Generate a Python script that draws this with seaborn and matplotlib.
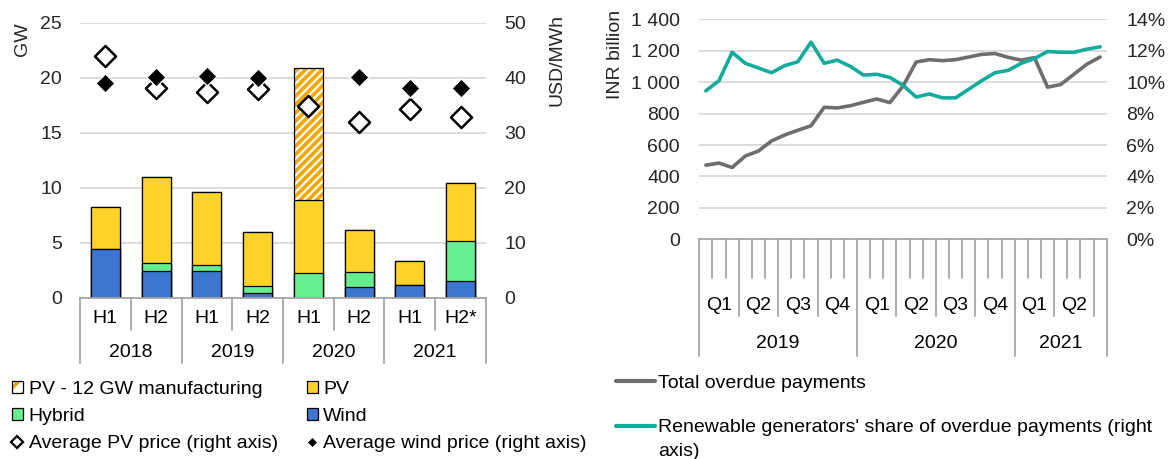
import numpy as np
import matplotlib
matplotlib.use("Agg")
import matplotlib.pyplot as plt
from matplotlib.patches import Patch
from matplotlib.lines import Line2D
from matplotlib.legend_handler import HandlerTuple
import seaborn as sns

# left panel: auctioned capacity (GW) by half-year, prices on right axis (USD/MWh)
HALVES = ["H1", "H2", "H1", "H2", "H1", "H2", "H1", "H2*"]
AUCTION_YEARS = ["2018", "2019", "2020", "2021"]
wind_gw = [4.45, 2.4, 2.4, 0.4, 0.0, 0.95, 1.15, 1.5]
hybrid_gw = [0.0, 0.8, 0.6, 0.7, 2.25, 1.4, 0.0, 3.65]
pv_gw = [3.8, 7.8, 6.65, 4.85, 6.6, 3.8, 2.15, 5.25]
pv_mfg_gw = [0.0, 0.0, 0.0, 0.0, 12.0, 0.0, 0.0, 0.0]
pv_price = [44.0, 38.1, 37.4, 38.0, 34.8, 32.0, 34.3, 32.9]
wind_price = [39.0, 40.2, 40.3, 39.9, np.nan, 40.2, 38.2, 38.2]

# right panel: monthly overdue payments, Jan 2019 - Jul 2021
QUARTERS = ["Q1", "Q2", "Q3", "Q4", "Q1", "Q2", "Q3", "Q4", "Q1", "Q2"]
PAYMENT_YEARS = ["2019", "2020", "2021"]
MONTHS_PER_YEAR = [12, 12, 7]
total_overdue = [472, 485, 457, 530, 562, 626, 664, 694, 722, 840, 836, 850, 872, 893, 870, 975,
                 1128, 1143, 1137, 1143, 1160, 1177, 1182, 1158, 1140, 1156, 968, 985, 1050, 1115, 1160]
re_share = [9.45, 10.1, 11.9, 11.2, 10.9, 10.6, 11.05, 11.3, 12.55, 11.2, 11.4, 11.0, 10.45, 10.5, 10.3, 9.8,
            9.05, 9.25, 9.0, 9.0, 9.55, 10.1, 10.6, 10.75, 11.2, 11.5, 11.95, 11.9, 11.9, 12.1, 12.25]

WIND_C = "#3B76D0"
HYBRID_C = "#66EE8F"
PV_C = "#FDD22A"
MFG_C = "#F3A800"
GREY_LINE = "#6E6E6E"
TEAL = "#13AC9C"
AXIS_GREY = "#A6A6A6"
GRID_C = "#D9D9D9"
FS = 14

sns.set_theme(style="white")
plt.rcParams["font.family"] = ["Liberation Sans", "DejaVu Sans"]
plt.rcParams["hatch.linewidth"] = 2.6
plt.rcParams["text.color"] = "black"

fig = plt.figure(figsize=(11.73, 4.59), dpi=100)
W, H = 1173, 459


def px_axes(x0, x1, y_top, y_bot):
    return fig.add_axes([x0 / W, 1 - y_bot / H, (x1 - x0) / W, (y_bot - y_top) / H])


def style_axes(ax):
    for s in ["top", "left", "right"]:
        ax.spines[s].set_visible(False)
    ax.spines["bottom"].set_color(AXIS_GREY)
    ax.spines["bottom"].set_linewidth(1.3)
    ax.yaxis.grid(True, color=GRID_C, linewidth=1.3)
    ax.xaxis.grid(False)
    ax.set_axisbelow(True)
    ax.set_xticks([])
    ax.set_xlabel("")


# ---------------- left panel ----------------
ax = px_axes(80, 486, 22.7, 297.7)
pos = np.arange(len(HALVES))
cum_wind = np.array(wind_gw)
cum_hyb = cum_wind + np.array(hybrid_gw)
cum_pv = cum_hyb + np.array(pv_gw)
cum_mfg = cum_pv + np.array(pv_mfg_gw)

bar_kw = dict(width=0.57, ax=ax, linewidth=0.9, edgecolor="black", saturation=1)
sns.barplot(x=pos, y=cum_mfg, color="white", hatch="////", width=0.57, ax=ax,
            linewidth=0, edgecolor=MFG_C, saturation=1)
sns.barplot(x=pos, y=cum_mfg, fill=False, width=0.57, ax=ax, linewidth=0.9, edgecolor="black")
sns.barplot(x=pos, y=cum_pv, color=PV_C, **bar_kw)
sns.barplot(x=pos, y=cum_hyb, color=HYBRID_C, **bar_kw)
sns.barplot(x=pos, y=cum_wind, color=WIND_C, **bar_kw)
# hide zero-height segments' outlines
for p in ax.patches:
    if p.get_height() == 0:
        p.set_visible(False)

ax.set_xlim(-0.5, 7.5)
ax.set_ylim(0, 25)
ax.set_yticks(range(0, 26, 5))
style_axes(ax)
ax.tick_params(axis="y", length=0, pad=13, labelsize=FS)
ax.set_ylabel("GW", fontsize=FS, loc="top")
ax.yaxis.set_label_coords(-0.12, 1.0)

ax2 = ax.twinx()
sns.scatterplot(x=pos, y=pv_price, ax=ax2, marker="D", s=115, color="white",
                edgecolor="black", linewidth=1.8, zorder=3)
sns.scatterplot(x=pos, y=wind_price, ax=ax2, marker="D", s=95, color="black",
                edgecolor="white", linewidth=1.0, zorder=4)
ax2.set_ylim(0, 50)
ax2.set_yticks(range(0, 51, 10))
for s in ax2.spines.values():
    s.set_visible(False)
ax2.grid(False)
ax2.tick_params(axis="y", length=0, pad=13, labelsize=FS)
ax2.set_ylabel("USD/MWh", fontsize=FS, loc="top")
ax2.yaxis.set_label_coords(1.155, 1.03)
ax.set_xlim(-0.5, 7.5)

xt = ax.get_xaxis_transform()
for b in range(len(HALVES) + 1):
    depth = 0.2375 if b % 2 == 0 else 0.1175
    ax.plot([b - 0.5, b - 0.5], [0, -depth], transform=xt, color=AXIS_GREY, lw=1.3, clip_on=False)
for i, lab in enumerate(HALVES):
    ax.text(i, -0.077, lab, transform=xt, ha="center", va="center", fontsize=FS)
for j, yr in enumerate(AUCTION_YEARS):
    ax.text(2 * j + 0.5, -0.2, yr, transform=xt, ha="center", va="center", fontsize=FS)

h_mfg = (Patch(facecolor="white", edgecolor=MFG_C, hatch="//", linewidth=0),
         Patch(facecolor="none", edgecolor="black", linewidth=0.9))
h_pv = Patch(facecolor=PV_C, edgecolor="black", linewidth=0.9)
h_hyb = Patch(facecolor=HYBRID_C, edgecolor="black", linewidth=0.9)
h_wind = Patch(facecolor=WIND_C, edgecolor="black", linewidth=0.9)
h_pvp = Line2D([], [], marker="D", linestyle="none", markersize=6.5, mfc="white", mec="black", mew=1.6)
h_wp = Line2D([], [], marker="D", linestyle="none", markersize=4.5, mfc="black", mec="black", mew=0.5)
fig.legend([h_mfg, h_hyb, h_pvp, h_pv, h_wind, h_wp],
           ["PV - 12 GW manufacturing", "Hybrid", "Average PV price (right axis)",
            "PV", "Wind", "Average wind price (right axis)"],
           handler_map={tuple: HandlerTuple(ndivide=1)},
           ncol=2, loc="upper left", bbox_to_anchor=(12 / W, 1 - 381 / H), frameon=False,
           fontsize=FS, handlelength=0.55, handleheight=0.55, handletextpad=0.3,
           columnspacing=1.5, labelspacing=0.52, borderpad=0, borderaxespad=0)

# ---------------- right panel ----------------
ax3 = px_axes(699.3, 1106.7, 19.3, 239.3)
months = np.arange(len(total_overdue))
sns.lineplot(x=months, y=total_overdue, ax=ax3, color=GREY_LINE, linewidth=2.6)
ax3.set_xlim(-0.5, len(months) - 0.5)
ax3.set_ylim(0, 1400)
ax3.set_yticks(range(0, 1401, 200))
ax3.yaxis.set_major_formatter(plt.FuncFormatter(lambda v, _: f"{int(v):,}".replace(",", " ")))
style_axes(ax3)
ax3.tick_params(axis="y", length=0, pad=14, labelsize=FS)
ax3.set_ylabel("INR billion", fontsize=FS, loc="top")
ax3.yaxis.set_label_coords(-0.185, 1.042)

ax4 = ax3.twinx()
sns.lineplot(x=months, y=re_share, ax=ax4, color=TEAL, linewidth=2.6)
ax4.set_ylim(0, 14)
ax4.set_yticks(range(0, 15, 2))
ax4.yaxis.set_major_formatter(plt.FuncFormatter(lambda v, _: f"{int(v)}%"))
for s in ax4.spines.values():
    s.set_visible(False)
ax4.grid(False)
ax4.tick_params(axis="y", length=0, pad=14, labelsize=FS)
ax4.set_ylabel("")
ax3.set_xlim(-0.5, len(months) - 0.5)

xt3 = ax3.get_xaxis_transform()
year_edges = np.cumsum([0] + MONTHS_PER_YEAR)
for k in range(len(months) + 1):
    if k in year_edges:
        depth = 0.529
    elif k % 3 == 0:
        depth = 0.3507
    else:
        depth = 0.1756
    ax3.plot([k - 0.5, k - 0.5], [0, -depth], transform=xt3, color=AXIS_GREY, lw=1.3, clip_on=False)
for q, lab in enumerate(QUARTERS):
    ax3.text(3 * q + 1, -0.302, lab, transform=xt3, ha="center", va="center", fontsize=FS)
for j, yr in enumerate(PAYMENT_YEARS):
    centre = (year_edges[j] + year_edges[j + 1]) / 2 - 0.5
    ax3.text(centre, -0.4755, yr, transform=xt3, ha="center", va="center", fontsize=FS)

h_tot = Line2D([], [], color=GREY_LINE, linewidth=3)
h_share = Line2D([], [], color=TEAL, linewidth=3)
fig.legend([h_tot, h_share],
           ["Total overdue payments", "Renewable generators' share of overdue payments (right"],
           loc="upper left", bbox_to_anchor=(616 / W, 1 - 374 / H), frameon=False,
           fontsize=FS, handlelength=2.0, handletextpad=0.15, labelspacing=1.4,
           borderpad=0, borderaxespad=0)
fig.text(658 / W, 1 - 451 / H, "axis)", fontsize=FS, va="center", ha="left")

fig.savefig("out.png", dpi=100)
